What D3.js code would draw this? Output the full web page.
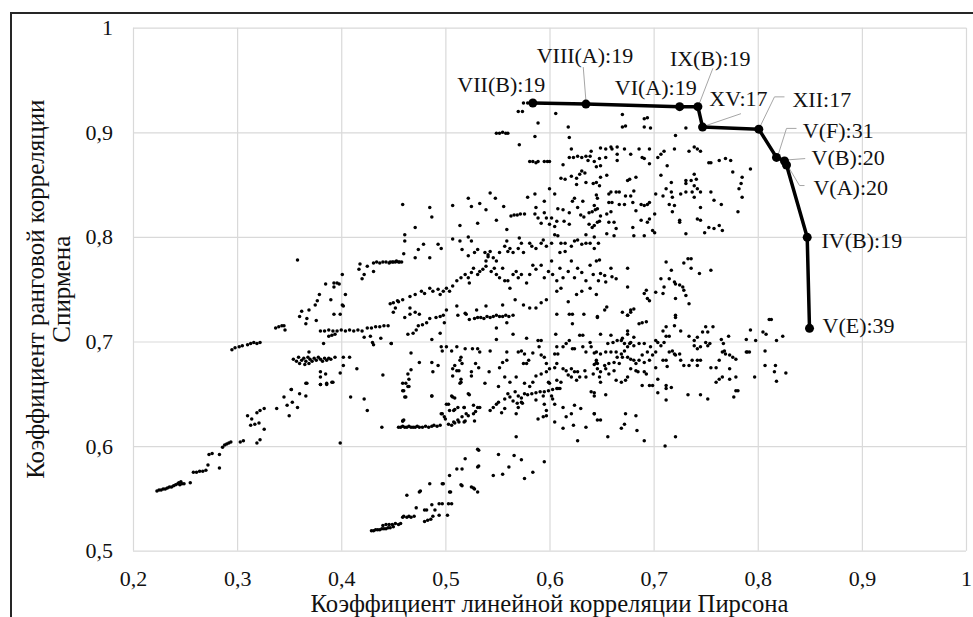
<!DOCTYPE html>
<html><head><meta charset="utf-8">
<script src="https://cdn.jsdelivr.net/npm/d3@7"></script>
<style>body{margin:0;background:#fff}svg{display:block}</style>
</head><body><svg id="c" width="973" height="617"></svg>
<script>
// ---------- DATA ----------
const xTicks = [0.2,0.3,0.4,0.5,0.6,0.7,0.8,0.9,1.0];
const xTickLabels = ["0,2","0,3","0,4","0,5","0,6","0,7","0,8","0,9","1"];
const yTicks = [0.5,0.6,0.7,0.8,0.9,1.0];
const yTickLabels = ["0,5","0,6","0,7","0,8","0,9","1"];
const xTitle = "Коэффициент линейной корреляции Пирсона";
const yTitle = ["Коэффициент ранговой корреляции","Спирмена"];

// Pareto front (labelled configurations)
const frontLabels = ["VII(B):19","VIII(A):19","VI(A):19","IX(B):19","XV:17","XII:17","V(F):31","V(B):20","V(A):20","IV(B):19","V(E):39"];
const frontPearson = [0.584,0.635,0.725,0.7425,0.747,0.801,0.818,0.8257,0.8276,0.8475,0.8497];
const frontSpearman = [0.928,0.927,0.9245,0.9245,0.905,0.903,0.876,0.8726,0.8687,0.7996,0.7126];

// Scatter of all configurations [pearson, spearman]
const lowerLeftArm = [[0.223,0.557],[0.225,0.558],[0.227,0.558],[0.229,0.559],[0.231,0.559],[0.233,0.560],[0.235,0.561],[0.237,0.561],[0.239,0.562],[0.241,0.563],[0.243,0.564],[0.244,0.565],[0.245,0.563],[0.246,0.566],[0.247,0.564],[0.249,0.564],[0.255,0.565],
[0.258,0.575],[0.261,0.575],[0.264,0.576],[0.267,0.576],[0.270,0.577],[0.272,0.582],[0.273,0.592],[0.276,0.593],[0.283,0.579],[0.283,0.592],
[0.286,0.599],[0.288,0.601],[0.290,0.602],[0.292,0.603],[0.294,0.604],[0.303,0.604],[0.306,0.605],
[0.310,0.629],[0.313,0.620],[0.317,0.621],[0.321,0.622],[0.319,0.603],[0.322,0.606],[0.326,0.616],[0.319,0.632],[0.322,0.634],[0.326,0.636],[0.314,0.626],
[0.338,0.636],[0.345,0.647],[0.350,0.629],[0.348,0.639],[0.353,0.642],[0.358,0.637],[0.360,0.650],[0.366,0.660],[0.366,0.648],[0.352,0.654],
[0.380,0.659],[0.386,0.660],[0.392,0.661],[0.409,0.647],[0.422,0.645],[0.425,0.634],[0.399,0.603],[0.439,0.618],
[0.455,0.618],[0.457,0.618],[0.459,0.619],[0.461,0.618],[0.463,0.618],[0.465,0.619],[0.467,0.618],[0.469,0.618],[0.471,0.618],[0.473,0.619],[0.475,0.618],[0.478,0.618],[0.481,0.619],[0.484,0.618],[0.487,0.619],[0.489,0.620],[0.492,0.619],[0.495,0.620],[0.460,0.625],[0.459,0.624],
[0.460,0.653],[0.465,0.657],[0.462,0.647],[0.462,0.660],[0.487,0.648],[0.497,0.631],[0.500,0.626],[0.501,0.640],[0.506,0.648],[0.509,0.646],[0.508,0.634],[0.514,0.660],[0.518,0.637],[0.520,0.631],[0.523,0.649],[0.527,0.639],[0.529,0.633],[0.508,0.623],[0.513,0.623],[0.518,0.623]];

const lowerArm = [[0.429,0.519],[0.431,0.519],[0.433,0.520],[0.435,0.520],[0.437,0.520],[0.439,0.521],[0.441,0.521],[0.443,0.521],[0.445,0.522],[0.447,0.522],[0.450,0.523],[0.440,0.524],[0.443,0.525],[0.446,0.525],[0.449,0.525],[0.452,0.526],[0.455,0.525],[0.457,0.526],[0.460,0.533],[0.465,0.533],[0.470,0.533],[0.463,0.553],[0.472,0.541],[0.476,0.557],[0.480,0.528],[0.483,0.529],[0.486,0.530],[0.482,0.539],[0.487,0.544],[0.490,0.539],[0.488,0.533],[0.494,0.534],[0.494,0.545],[0.497,0.545],[0.497,0.564],[0.502,0.534],[0.504,0.572],[0.505,0.556],[0.506,0.545],[0.511,0.578],[0.516,0.578],[0.516,0.562],[0.519,0.588],[0.527,0.560],[0.532,0.581],[0.532,0.596],[0.485,0.564],[0.459,0.532],[0.463,0.532],[0.467,0.532],[0.475,0.556],[0.498,0.564],[0.504,0.556],[0.515,0.563],[0.525,0.561],[0.528,0.559],[0.531,0.556],[0.531,0.597],[0.531,0.580],[0.546,0.572],[0.555,0.573],[0.551,0.592],[0.561,0.580],[0.566,0.591],[0.573,0.587],[0.576,0.569],[0.584,0.575],[0.595,0.585],[0.503,0.545],[0.480,0.539]];

const upperLeft = [[0.358,0.778],[0.418,0.774],[0.417,0.769],[0.422,0.764],[0.420,0.760],[0.425,0.772],[0.431,0.767],
[0.431,0.775],[0.434,0.776],[0.437,0.775],[0.440,0.776],[0.443,0.776],[0.446,0.775],[0.449,0.776],[0.452,0.776],[0.455,0.776],[0.458,0.776],
[0.401,0.764],[0.393,0.756],[0.396,0.756],[0.393,0.752],[0.398,0.755],[0.385,0.755],[0.379,0.745],[0.377,0.739],[0.375,0.735],[0.404,0.745],[0.401,0.735],[0.402,0.734],[0.390,0.740],[0.362,0.729],[0.369,0.730],[0.367,0.722],[0.360,0.724],[0.366,0.717],[0.376,0.720],[0.393,0.726],[0.399,0.726],
[0.337,0.713],[0.340,0.714],[0.343,0.715],[0.345,0.715],[0.346,0.711],
[0.380,0.710],[0.384,0.710],[0.388,0.711],[0.392,0.710],[0.396,0.710],[0.400,0.711],[0.404,0.710],[0.408,0.711],[0.412,0.710],[0.416,0.711],[0.420,0.710],[0.425,0.713],[0.429,0.713],[0.433,0.714],[0.437,0.714],[0.441,0.715],[0.445,0.715],
[0.447,0.736],[0.454,0.739],[0.452,0.732],[0.450,0.728],
[0.388,0.705],[0.391,0.706],[0.394,0.707],[0.422,0.704],[0.428,0.705],[0.430,0.699],[0.431,0.697],[0.438,0.703],[0.448,0.698],[0.383,0.698],
[0.295,0.692],[0.298,0.694],[0.302,0.695],[0.305,0.696],[0.310,0.697],[0.313,0.698],[0.316,0.699],[0.319,0.698],[0.322,0.699],
[0.354,0.683],[0.357,0.681],[0.359,0.685],[0.362,0.682],[0.364,0.684],[0.366,0.681],[0.368,0.685],[0.370,0.683],[0.372,0.681],[0.374,0.684],[0.376,0.682],[0.378,0.685],[0.380,0.683],[0.382,0.681],[0.384,0.684],[0.386,0.682],[0.388,0.684],[0.390,0.683],[0.360,0.679],[0.365,0.678],[0.369,0.679],[0.369,0.690],
[0.394,0.685],[0.402,0.685],[0.408,0.685],[0.402,0.677],[0.415,0.674],[0.399,0.670],[0.380,0.671],[0.385,0.669],[0.380,0.666],[0.391,0.661],[0.386,0.659],[0.380,0.659],[0.367,0.660],[0.352,0.654],[0.440,0.668]];

const midBand = [[0.461,0.723],[0.466,0.726],[0.471,0.728],[0.464,0.707],[0.469,0.708],[0.472,0.711],[0.474,0.715],[0.478,0.716],[0.482,0.718],[0.491,0.723],[0.495,0.724],[0.498,0.725],[0.499,0.718],[0.487,0.702],[0.495,0.708],[0.512,0.725],[0.519,0.727],[0.523,0.721],
[0.528,0.722],[0.531,0.723],[0.534,0.723],[0.537,0.722],[0.540,0.724],[0.543,0.723],[0.546,0.724],[0.549,0.725],[0.552,0.724],[0.555,0.724],[0.558,0.725],[0.561,0.724],[0.565,0.725],
[0.549,0.713],[0.565,0.707],[0.549,0.702],[0.559,0.718],[0.578,0.703],[0.589,0.701],[0.592,0.701],[0.607,0.726],[0.606,0.707],[0.619,0.726],[0.622,0.726],[0.622,0.717],[0.633,0.726],[0.629,0.706],[0.632,0.706],[0.646,0.724],
[0.448,0.698],[0.467,0.689],[0.475,0.680],[0.487,0.680],[0.488,0.671],[0.493,0.677],[0.467,0.673],[0.465,0.664],[0.464,0.669],[0.459,0.660],[0.459,0.653],[0.461,0.647],[0.464,0.657],[0.487,0.648],[0.459,0.624],
[0.496,0.631],[0.499,0.628],[0.503,0.621],[0.506,0.620],[0.509,0.622],[0.512,0.625],[0.516,0.628],[0.519,0.624],[0.522,0.629],[0.527,0.631],[0.528,0.624],[0.531,0.637],[0.533,0.637],[0.504,0.634],[0.509,0.635],[0.512,0.637],[0.503,0.640],[0.507,0.647],[0.518,0.637],
[0.496,0.695],[0.497,0.691],[0.501,0.695],[0.506,0.691],[0.511,0.695],[0.515,0.685],[0.514,0.682],[0.516,0.679],[0.507,0.674],[0.509,0.677],[0.511,0.672],[0.507,0.667],[0.513,0.672],[0.515,0.661],[0.515,0.664],
[0.519,0.693],[0.526,0.693],[0.531,0.693],[0.533,0.690],[0.525,0.671],[0.525,0.667],[0.529,0.679],[0.532,0.675],[0.522,0.650],[0.538,0.660],[0.542,0.671],[0.543,0.691],
[0.543,0.634],[0.546,0.637],[0.549,0.640],[0.551,0.642],[0.554,0.632],[0.557,0.636],[0.551,0.657],[0.552,0.675],[0.555,0.680],[0.559,0.682],[0.559,0.690],[0.557,0.666],[0.562,0.661],[0.568,0.666],
[0.557,0.645],[0.560,0.650],[0.562,0.647],[0.565,0.643],[0.567,0.652],[0.570,0.648],[0.573,0.646],[0.576,0.650],[0.579,0.649],[0.583,0.650],[0.587,0.651],[0.591,0.652],[0.595,0.652],[0.599,0.653],[0.603,0.654],[0.607,0.655],[0.610,0.655],[0.569,0.641],[0.574,0.641],
[0.568,0.631],[0.570,0.637],[0.573,0.642],[0.568,0.609],
[0.570,0.690],[0.573,0.691],[0.576,0.688],[0.578,0.679],[0.575,0.679],[0.580,0.682],[0.584,0.689],
[0.576,0.660],[0.581,0.657],[0.584,0.661],[0.587,0.644],[0.594,0.648],[0.595,0.640],[0.597,0.634],[0.589,0.626],[0.594,0.628],[0.597,0.629],
[0.587,0.667],[0.592,0.669],[0.597,0.671],[0.599,0.661],[0.600,0.660],[0.592,0.687],[0.595,0.685],[0.590,0.695],[0.597,0.679],[0.600,0.674],
[0.605,0.688],[0.607,0.679],[0.607,0.695],[0.608,0.688],[0.613,0.695],[0.616,0.698],[0.619,0.701],[0.622,0.693],[0.624,0.693],
[0.605,0.675],[0.607,0.663],[0.608,0.655],[0.611,0.661],[0.613,0.674],[0.616,0.672],[0.618,0.668],[0.621,0.674],[0.621,0.666],[0.624,0.671],[0.626,0.663],[0.627,0.671],[0.629,0.666],
[0.602,0.648],[0.603,0.645],[0.605,0.640],[0.605,0.623],[0.613,0.637],[0.613,0.617],[0.616,0.628],[0.621,0.631],[0.623,0.620],[0.624,0.639],[0.627,0.605],[0.630,0.636],[0.635,0.618],[0.640,0.652],[0.643,0.651],[0.643,0.631],[0.646,0.625],
[0.632,0.695],[0.635,0.690],[0.639,0.699],[0.640,0.695],[0.643,0.689],[0.645,0.682],[0.643,0.678],[0.634,0.672],[0.635,0.666],[0.642,0.669],
[0.721,0.723],[0.720,0.715],[0.712,0.714],[0.709,0.710],[0.712,0.705],[0.715,0.705],[0.726,0.710],[0.693,0.719],[0.689,0.718],[0.686,0.717],[0.675,0.725],[0.678,0.728],[0.675,0.710],[0.675,0.707],[0.681,0.704],[0.670,0.703],[0.669,0.701],[0.659,0.706],[0.649,0.707],[0.646,0.723],[0.656,0.698],[0.661,0.699],[0.665,0.701],[0.702,0.701],[0.704,0.699],
[0.734,0.705],[0.739,0.701],[0.742,0.704],[0.747,0.709],[0.750,0.714],[0.752,0.709],[0.757,0.714],[0.754,0.698],[0.750,0.699],[0.765,0.702],[0.767,0.698],[0.772,0.705],[0.789,0.702],[0.793,0.711],[0.798,0.701],[0.805,0.709],[0.808,0.707],[0.811,0.721],[0.813,0.721],[0.818,0.701],[0.824,0.705],
[0.645,0.690],[0.649,0.688],[0.654,0.690],[0.659,0.690],[0.664,0.690],[0.645,0.680],[0.646,0.679],[0.653,0.677],[0.657,0.679],[0.662,0.680],[0.667,0.679],[0.669,0.688],[0.672,0.691],[0.675,0.695],[0.677,0.698],[0.681,0.696],[0.686,0.698],[0.691,0.698],[0.670,0.685],[0.675,0.685],[0.678,0.683],[0.681,0.682],[0.686,0.682],[0.691,0.680],[0.696,0.682],[0.699,0.687],[0.697,0.695],[0.694,0.690],[0.689,0.687],[0.649,0.671],[0.654,0.674],[0.657,0.669],[0.648,0.666],[0.649,0.661],[0.646,0.674],[0.662,0.672],[0.664,0.663],[0.669,0.661],[0.673,0.663],[0.675,0.666],[0.678,0.674],[0.683,0.672],[0.685,0.671],[0.691,0.671],[0.693,0.669],[0.689,0.658],[0.696,0.658],[0.699,0.658],[0.683,0.679],[0.665,0.685],[0.672,0.698],[0.678,0.699],
[0.702,0.690],[0.707,0.696],[0.710,0.699],[0.712,0.682],[0.709,0.682],[0.715,0.690],[0.718,0.691],[0.720,0.688],[0.721,0.687],[0.725,0.688],[0.726,0.682],[0.729,0.677],[0.734,0.677],[0.737,0.682],[0.742,0.682],[0.745,0.682],[0.742,0.677],[0.739,0.696],[0.742,0.693],[0.745,0.695],[0.752,0.696],[0.755,0.675],[0.760,0.675],[0.763,0.682],[0.766,0.690],[0.768,0.691],[0.769,0.688],[0.773,0.687],[0.776,0.685],[0.779,0.683],[0.773,0.674],[0.766,0.666],[0.763,0.664],[0.760,0.661],[0.773,0.664],[0.779,0.666],[0.779,0.653],[0.781,0.653],[0.777,0.647],[0.789,0.690],[0.792,0.690],[0.797,0.666],[0.790,0.690],[0.704,0.664],[0.712,0.655],[0.712,0.658],[0.717,0.656],[0.704,0.651],[0.712,0.644],[0.733,0.649],[0.745,0.649],[0.752,0.645],[0.713,0.676],[0.702,0.675],
[0.807,0.691],[0.807,0.677],[0.817,0.677],[0.816,0.671],[0.818,0.662],[0.827,0.670],
[0.643,0.648],[0.654,0.649],[0.649,0.625],[0.643,0.631],[0.673,0.631],[0.672,0.621],[0.669,0.617],[0.683,0.629],[0.684,0.615],[0.656,0.609],[0.691,0.605],[0.711,0.600],[0.721,0.609]];

const upperBand = [[0.575,0.928],[0.579,0.928],[0.570,0.920],[0.574,0.920],[0.589,0.909],[0.606,0.918],[0.618,0.905],
[0.549,0.899],[0.552,0.899],[0.555,0.900],[0.558,0.899],[0.560,0.899],[0.586,0.896],[0.571,0.888],[0.619,0.895],[0.621,0.884],
[0.581,0.872],[0.584,0.872],[0.587,0.871],[0.589,0.872],[0.595,0.872],[0.598,0.872],[0.600,0.872],
[0.613,0.869],[0.619,0.876],[0.623,0.876],[0.627,0.877],[0.631,0.876],[0.635,0.877],[0.639,0.877],[0.640,0.882],[0.637,0.873],[0.643,0.872],
[0.611,0.856],[0.615,0.855],[0.621,0.858],[0.626,0.856],[0.629,0.860],[0.631,0.863],[0.626,0.850],[0.634,0.861],[0.635,0.852],
[0.600,0.846],[0.605,0.841],[0.642,0.851],[0.645,0.840],
[0.579,0.838],[0.586,0.841],[0.595,0.834],[0.587,0.828],[0.595,0.823],[0.597,0.818],[0.602,0.818],[0.607,0.815],[0.592,0.813],[0.600,0.812],[0.605,0.810],[0.608,0.827],
[0.613,0.826],[0.619,0.823],[0.614,0.815],[0.619,0.812],[0.622,0.834],[0.624,0.837],[0.627,0.828],[0.632,0.834],[0.630,0.821],[0.638,0.823],[0.633,0.819],[0.641,0.824],[0.644,0.826],[0.638,0.812],[0.641,0.809],[0.635,0.802],[0.646,0.837],[0.648,0.815],[0.643,0.800],
[0.563,0.820],[0.566,0.821],[0.569,0.821],[0.572,0.822],[0.576,0.822],
[0.459,0.831],[0.485,0.828],[0.487,0.819],[0.507,0.830],[0.522,0.837],[0.525,0.829],[0.533,0.832],[0.539,0.826],[0.543,0.842],[0.548,0.837],[0.556,0.829],[0.549,0.816],[0.531,0.813],[0.514,0.811],[0.559,0.807],[0.586,0.822],[0.589,0.818],
[0.461,0.802],[0.461,0.796],[0.471,0.809],[0.479,0.793],[0.474,0.788],[0.471,0.780],[0.460,0.784],
[0.447,0.776],[0.450,0.776],[0.453,0.777],[0.456,0.776],
[0.485,0.780],[0.493,0.793],[0.496,0.789],[0.507,0.798],[0.514,0.796],[0.522,0.800],[0.525,0.796],[0.516,0.788],[0.522,0.782],[0.528,0.785],[0.531,0.788],
[0.538,0.785],[0.543,0.786],[0.541,0.781],[0.539,0.777],[0.546,0.780],[0.549,0.777],[0.552,0.785],[0.557,0.791],[0.559,0.796],[0.560,0.786],[0.562,0.789],[0.565,0.785],[0.570,0.789],[0.573,0.794],[0.571,0.799],[0.575,0.785],[0.581,0.794],[0.583,0.791],[0.587,0.789],[0.592,0.794],[0.594,0.797],[0.597,0.791],[0.602,0.794],[0.605,0.802],[0.608,0.801],[0.611,0.794],[0.615,0.794],[0.610,0.785],[0.615,0.786],[0.621,0.791],[0.624,0.796],[0.627,0.797],[0.631,0.793],[0.635,0.794],[0.639,0.794],[0.643,0.789],[0.647,0.794],
[0.450,0.737],[0.455,0.738],[0.459,0.740],[0.466,0.743],[0.471,0.745],[0.477,0.748],[0.480,0.746],[0.485,0.751],[0.488,0.748],[0.493,0.750],[0.495,0.745],[0.498,0.748],[0.501,0.751],[0.504,0.748],[0.507,0.753],[0.511,0.758],[0.515,0.761],[0.519,0.764],[0.522,0.761],[0.523,0.756],[0.525,0.766],[0.527,0.770],[0.531,0.764],[0.533,0.767],[0.536,0.769],[0.539,0.772],[0.541,0.783],[0.544,0.767],[0.547,0.770],[0.549,0.764],[0.552,0.761],[0.555,0.770],[0.557,0.758],[0.560,0.758],[0.562,0.751],[0.565,0.764],[0.568,0.767],[0.570,0.761],[0.573,0.764],[0.578,0.756],[0.581,0.764],[0.584,0.773],[0.587,0.769],[0.592,0.773],[0.595,0.761],[0.599,0.767],[0.602,0.777],[0.603,0.764],[0.607,0.758],[0.610,0.770],[0.613,0.761],[0.618,0.767],[0.621,0.777],[0.624,0.761],[0.627,0.770],[0.631,0.766],[0.635,0.758],[0.639,0.773],[0.642,0.764],[0.645,0.777],[0.647,0.758],
[0.466,0.732],[0.475,0.726],[0.485,0.722],[0.501,0.730],[0.511,0.734],[0.520,0.726],[0.530,0.730],[0.539,0.734],[0.555,0.735],[0.567,0.740],[0.575,0.735],[0.581,0.732],[0.587,0.732],[0.592,0.737],[0.597,0.740],[0.607,0.748],[0.611,0.751],[0.618,0.738],[0.626,0.745],[0.631,0.748],[0.639,0.751],[0.645,0.745],
[0.670,0.917],[0.670,0.905],[0.673,0.906],[0.691,0.913],[0.694,0.914],[0.691,0.905],[0.697,0.904],[0.731,0.904],[0.721,0.897],
[0.649,0.885],[0.648,0.875],[0.645,0.867],[0.649,0.868],[0.654,0.884],[0.654,0.876],[0.659,0.886],[0.660,0.884],[0.665,0.886],[0.665,0.879],[0.665,0.873],[0.672,0.884],[0.678,0.879],[0.686,0.884],[0.689,0.876],[0.691,0.875],[0.696,0.884],[0.696,0.870],[0.704,0.876],[0.707,0.879],[0.710,0.882],[0.713,0.868],[0.720,0.884],[0.739,0.886],[0.742,0.884],[0.745,0.882],[0.734,0.882],[0.753,0.871],[0.755,0.871],[0.763,0.873],[0.769,0.875],[0.774,0.873],[0.776,0.862],[0.793,0.865],[0.785,0.857],[0.784,0.851],[0.782,0.846],[0.785,0.838],[0.781,0.824],
[0.655,0.859],[0.649,0.857],[0.645,0.852],[0.648,0.849],[0.657,0.841],[0.659,0.843],[0.664,0.843],[0.667,0.843],[0.657,0.833],[0.660,0.833],[0.667,0.831],[0.672,0.831],[0.673,0.839],[0.675,0.854],[0.677,0.855],[0.678,0.839],[0.680,0.833],[0.681,0.844],[0.683,0.857],[0.688,0.831],[0.691,0.830],[0.694,0.831],[0.696,0.833],[0.643,0.830],[0.646,0.827],[0.649,0.820],[0.646,0.814],[0.655,0.822],[0.659,0.824],[0.662,0.814],[0.664,0.808],[0.657,0.814],[0.662,0.801],[0.655,0.803],[0.643,0.811],
[0.702,0.841],[0.707,0.859],[0.712,0.846],[0.717,0.843],[0.718,0.838],[0.715,0.831],[0.720,0.830],[0.718,0.824],[0.725,0.816],[0.725,0.814],[0.726,0.841],[0.731,0.854],[0.731,0.851],[0.736,0.854],[0.739,0.860],[0.741,0.855],[0.739,0.849],[0.737,0.843],[0.731,0.843],[0.742,0.846],[0.745,0.843],[0.739,0.838],[0.745,0.828],[0.742,0.817],[0.745,0.816],[0.749,0.804],[0.753,0.809],[0.755,0.843],[0.758,0.835],[0.765,0.831],[0.758,0.808],[0.763,0.811],[0.766,0.806],[0.731,0.803],[0.717,0.852],[0.709,0.839],[0.701,0.822],[0.696,0.817],[0.694,0.814],[0.699,0.806],[0.701,0.804],[0.680,0.809],[0.681,0.801],[0.691,0.801],[0.688,0.816],[0.683,0.825],
[0.648,0.778],[0.649,0.765],[0.653,0.763],[0.654,0.757],[0.659,0.770],[0.660,0.762],[0.664,0.760],[0.675,0.770],[0.675,0.752],[0.678,0.730],[0.681,0.731],[0.675,0.725],[0.670,0.728],[0.655,0.733],[0.653,0.730],[0.693,0.749],[0.694,0.741],[0.696,0.739],[0.691,0.746],[0.702,0.747],[0.709,0.746],[0.710,0.752],[0.707,0.760],[0.715,0.760],[0.717,0.768],[0.712,0.776],[0.720,0.757],[0.721,0.755],[0.725,0.754],[0.728,0.752],[0.729,0.749],[0.731,0.744],[0.734,0.736],[0.729,0.775],[0.733,0.779],[0.736,0.779],[0.736,0.770],[0.744,0.765],[0.755,0.768],[0.721,0.741],[0.721,0.725]];

// ---------- LAYOUT (label placement relative to its point, px) ----------
const labelLayout = [
  {dx:12.5, dy:-11, anchor:"end"},
  {dx:-1, dy:-41, anchor:"middle", leader:[[0,-3],[-2.7,-37]]},
  {dx:17, dy:-11.7, anchor:"end"},
  {dx:-28, dy:-40.7, anchor:"start", leader:[[1,-2],[15,-38.4]]},
  {dx:6.7, dy:-20.7, anchor:"start", leader:[[2,-1],[38.4,-13.4]]},
  {dx:33.7, dy:-22.3, anchor:"start", leader:[[1,-2],[15.7,-32.3],[25.7,-32.3]]},
  {dx:26.3, dy:-19.3, anchor:"start", leader:[[1.5,-2],[10,-29],[20,-29]]},
  {dx:27, dy:4.3, anchor:"start", leader:[[2,-1],[20.7,-2.4]]},
  {dx:27, dy:29.5, anchor:"start", leader:[[2,2],[13,20.5],[18,20.5]]},
  {dx:14.3, dy:10.7, anchor:"start"},
  {dx:13, dy:4.7, anchor:"start"}
];

// ---------- DRAW ----------
const plotL = 133, plotR = 966, plotT = 27.7, plotB = 550.7;
const FONT = "'Liberation Serif','Times New Roman',Times,serif";
const svg = d3.select("#c");

const x = d3.scaleLinear().domain([0.2, 1]).range([plotL, plotR]);
const y = d3.scaleLinear().domain([0.5, 1]).range([plotB, plotT]);

// outer frame (cropped)
svg.append("rect").attr("x", 11).attr("y", 13).attr("width", 1100).attr("height", 700)
  .attr("fill", "none").attr("stroke", "#262626").attr("stroke-width", 2);

// axes with gridlines
const gx = svg.append("g").attr("transform", `translate(0,${plotB})`)
  .call(d3.axisBottom(x).tickValues(xTicks).tickSize(-(plotB - plotT)).tickPadding(20)
    .tickFormat((d, i) => xTickLabels[i]));
const gy = svg.append("g").attr("transform", `translate(${plotL},0)`)
  .call(d3.axisLeft(y).tickValues(yTicks).tickSize(-(plotR - plotL)).tickPadding(20)
    .tickFormat((d, i) => yTickLabels[i]));
[gx, gy].forEach(g => {
  g.select(".domain").remove();
  g.selectAll(".tick line").attr("stroke", "#d9d9d9").attr("stroke-width", 1.2);
  g.selectAll(".tick text").attr("fill", "#111").style("font-family", FONT).style("font-size", "22px");
});

// scatter
const allPoints = [].concat(lowerLeftArm, lowerArm, upperLeft, midBand, upperBand);
svg.append("g").selectAll("circle").data(allPoints).join("circle")
  .attr("cx", d => x(d[0])).attr("cy", d => y(d[1])).attr("r", 1.75).attr("fill", "#000");

// Pareto front
const front = frontLabels.map((l, i) => ({label: l, px: frontPearson[i], sp: frontSpearman[i], lay: labelLayout[i]}));

// leader lines
const lg = svg.append("g");
front.forEach(f => {
  if (!f.lay.leader) return;
  const cx = x(f.px), cy = y(f.sp);
  lg.append("path")
    .attr("d", d3.line()(f.lay.leader.map(p => [cx + p[0], cy + p[1]])))
    .attr("fill", "none").attr("stroke", "#a6a6a6").attr("stroke-width", 1);
});

svg.append("path").datum(front)
  .attr("d", d3.line().x(d => x(d.px)).y(d => y(d.sp)))
  .attr("fill", "none").attr("stroke", "#000").attr("stroke-width", 3.5).attr("stroke-linejoin", "round");
svg.append("g").selectAll("circle").data(front).join("circle")
  .attr("cx", d => x(d.px)).attr("cy", d => y(d.sp)).attr("r", 4.5).attr("fill", "#000");

svg.append("g").selectAll("text").data(front).join("text")
  .attr("x", d => x(d.px) + d.lay.dx).attr("y", d => y(d.sp) + d.lay.dy)
  .attr("text-anchor", d => d.lay.anchor)
  .style("font-family", FONT).style("font-size", "22px").attr("fill", "#111")
  .text(d => d.label);

// axis titles
svg.append("text").attr("x", (plotL + plotR) / 2).attr("y", 612).attr("text-anchor", "middle")
  .style("font-family", FONT).style("font-size", "24.7px").attr("fill", "#111").text(xTitle);
const cyMid = (plotT + plotB) / 2;
[44, 70].forEach((bx, i) => {
  svg.append("text").attr("transform", `translate(${bx},${cyMid}) rotate(-90)`)
    .attr("text-anchor", "middle")
    .style("font-family", FONT).style("font-size", "25px").attr("fill", "#111").text(yTitle[i]);
});
</script></body></html>
